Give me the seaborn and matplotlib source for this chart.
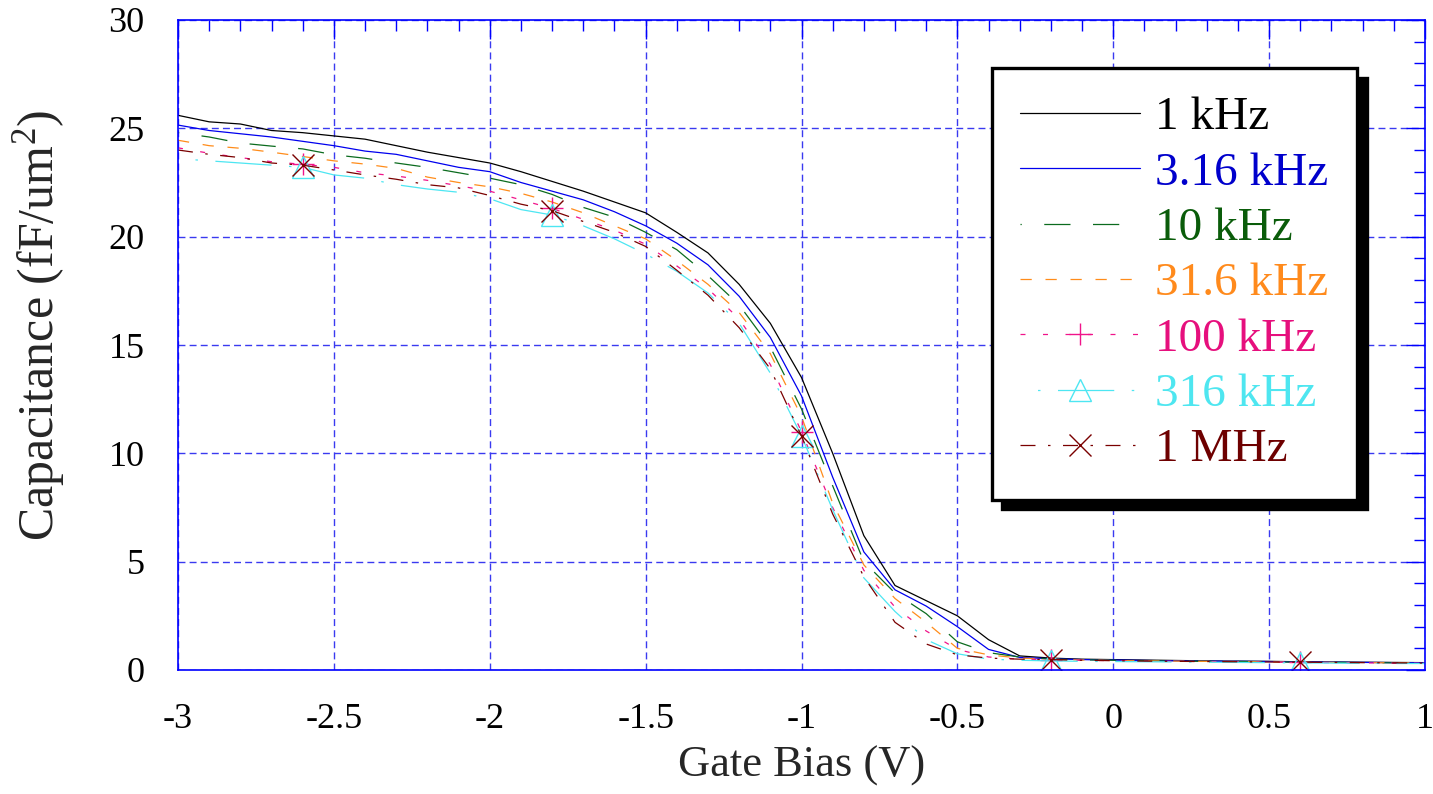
import numpy as np
import pandas as pd
import matplotlib
matplotlib.use("Agg")
import matplotlib.pyplot as plt
from matplotlib.ticker import MultipleLocator, FixedLocator, FixedFormatter
import seaborn as sns

# ---------------- data ----------------
gate_bias = [-3.0, -2.9, -2.8, -2.7, -2.6, -2.5, -2.4, -2.3, -2.2, -2.1,
             -2.0, -1.9, -1.8, -1.7, -1.6, -1.5, -1.4, -1.3, -1.2, -1.1,
             -1.0, -0.9, -0.8, -0.7, -0.6, -0.5, -0.4, -0.3, -0.2, -0.1,
             0.0, 0.1, 0.2, 0.3, 0.4, 0.5, 0.6, 0.7, 0.8, 0.9, 1.0]

cap_1k = [25.6, 25.3, 25.2, 24.9, 24.8, 24.65, 24.5, 24.2, 23.9, 23.65,
          23.4, 23.0, 22.55, 22.1, 21.6, 21.1, 20.2, 19.25, 17.8, 16.0,
          13.5, 10.0, 6.2, 3.9, 3.2, 2.5, 1.4, 0.65, 0.55, 0.50,
          0.48, 0.46, 0.44, 0.42, 0.41, 0.40, 0.38, 0.37, 0.36, 0.35, 0.34]
cap_3k16 = [25.15, 24.9, 24.75, 24.6, 24.4, 24.2, 23.95, 23.8, 23.5, 23.2,
            23.0, 22.5, 22.1, 21.7, 21.15, 20.5, 19.7, 18.7, 17.25, 15.35,
            12.65, 8.9, 5.45, 3.7, 2.95, 2.0, 0.95, 0.58, 0.52, 0.48,
            0.46, 0.44, 0.42, 0.41, 0.40, 0.39, 0.37, 0.36, 0.35, 0.34, 0.33]
cap_10k = [24.8, 24.6, 24.32, 24.18, 24.05, 23.78, 23.62, 23.4, 23.2, 22.95,
           22.7, 22.4, 21.95, 21.35, 20.9, 20.2, 19.4, 18.2, 16.85, 14.9,
           12.05, 8.5, 5.0, 3.55, 2.6, 1.3, 0.8, 0.6, 0.5, 0.47,
           0.45, 0.43, 0.41, 0.40, 0.39, 0.38, 0.36, 0.35, 0.34, 0.33, 0.32]
cap_31k6 = [24.45, 24.2, 24.08, 23.9, 23.7, 23.5, 23.35, 23.15, 22.75, 22.5,
            22.3, 22.0, 21.6, 21.1, 20.5, 19.9, 18.9, 17.8, 16.5, 14.6,
            11.7, 7.7, 4.85, 3.3, 2.2, 1.0, 0.7, 0.55, 0.5, 0.46,
            0.44, 0.42, 0.41, 0.40, 0.39, 0.37, 0.36, 0.35, 0.34, 0.33, 0.32]
cap_100k = [24.1, 23.85, 23.65, 23.46, 23.34, 23.2, 22.95, 22.8, 22.6, 22.35,
            22.1, 21.7, 21.3, 20.8, 20.3, 19.65, 18.65, 17.6, 16.2, 14.1,
            11.0, 7.5, 4.6, 2.9, 1.8, 0.95, 0.6, 0.5, 0.48, 0.45,
            0.43, 0.41, 0.40, 0.39, 0.38, 0.36, 0.35, 0.34, 0.33, 0.32, 0.31]
cap_316k = [23.6, 23.5, 23.4, 23.3, 23.2, 22.85, 22.7, 22.4, 22.2, 22.05,
            21.75, 21.25, 21.0, 20.5, 19.9, 19.2, 18.4, 17.4, 16.0, 13.7,
            10.8, 7.4, 4.25, 2.7, 1.4, 0.75, 0.5, 0.45, 0.42, 0.40,
            0.39, 0.38, 0.37, 0.36, 0.35, 0.34, 0.33, 0.32, 0.31, 0.30, 0.30]
cap_1M = [24.0, 23.8, 23.65, 23.4, 23.3, 23.08, 22.85, 22.65, 22.4, 22.25,
          21.9, 21.5, 21.2, 20.7, 20.2, 19.55, 18.45, 17.3, 15.8, 13.9,
          10.8, 7.2, 4.3, 2.2, 1.2, 0.7, 0.55, 0.5, 0.48, 0.45,
          0.43, 0.41, 0.40, 0.39, 0.38, 0.37, 0.36, 0.35, 0.34, 0.33, 0.32]

series_labels = ["1 kHz", "3.16 kHz", "10 kHz", "31.6 kHz", "100 kHz", "316 kHz", "1 MHz"]
series_values = [cap_1k, cap_3k16, cap_10k, cap_31k6, cap_100k, cap_316k, cap_1M]

x_ticks = [-3, -2.5, -2, -1.5, -1, -0.5, 0, 0.5, 1]
x_tick_labels = ["-3", "-2.5", "-2", "-1.5", "-1", "-0.5", "0", "0.5", "1"]
y_ticks = [0, 5, 10, 15, 20, 25, 30]
y_tick_labels = ["0", "5", "10", "15", "20", "25", "30"]

# ---------------- styles ----------------
line_colors = ["#000000", "#0000ee", "#0b6b1e", "#ff8c1a", "#f0148a", "#4de6f2", "#7a0000"]
text_colors = ["#000000", "#0000cc", "#0a5c0a", "#ff8a1c", "#e60f7d", "#4ee6f0", "#6e0000"]
line_styles = ["-", "-", (20, (21, 18)), (0, (9, 11)), (0, (4, 14)),
               (45, (45, 14, 2, 14)), (0, (12, 10, 2, 10))]
markers = [None, None, None, None, "+", "^", "x"]

sns.set_style("white")
plt.rcParams["font.family"] = ["Liberation Serif", "DejaVu Serif"]
plt.rcParams["mathtext.fontset"] = "custom"
plt.rcParams["mathtext.rm"] = "Liberation Serif"
plt.rcParams["mathtext.it"] = "Liberation Serif:italic"
plt.rcParams["axes.unicode_minus"] = False

fig = plt.figure(figsize=(14.33, 7.94), dpi=100)
ax = fig.add_axes([178 / 1433, 1 - 670 / 794, (1425 - 178) / 1433, (670 - 20) / 794])

for lab, vals, col, ls, mk in zip(series_labels, series_values, line_colors, line_styles, markers):
    df = pd.DataFrame({"bias": gate_bias, "cap": vals})
    kw = dict(color=col, linewidth=0.9, linestyle=ls, label=lab)
    if mk is not None:
        kw.update(marker=mk, markevery=(4, 8), markersize=16, markerfacecolor="none",
                  markeredgecolor=col, markeredgewidth=1.0)
    sns.lineplot(data=df, x="bias", y="cap", ax=ax, **kw)

ax.set_xlim(-3, 1)
ax.set_ylim(0, 30)
ax.xaxis.set_major_locator(FixedLocator(x_ticks))
ax.xaxis.set_major_formatter(FixedFormatter(x_tick_labels))
ax.yaxis.set_major_locator(FixedLocator(y_ticks))
ax.yaxis.set_major_formatter(FixedFormatter(y_tick_labels))
ax.xaxis.set_minor_locator(MultipleLocator(0.1))
ax.yaxis.set_minor_locator(MultipleLocator(1))

ax.tick_params(which="both", direction="in", top=True, right=True, color="#0000ff", width=1.0,
               labelcolor="black", labelsize=26)
ax.tick_params(which="major", length=14)
ax.tick_params(which="minor", length=8)
ax.tick_params(axis="x", which="major", pad=24)
ax.tick_params(axis="y", which="major", pad=24)

ax.grid(True, which="major", color="#3a3af0", linestyle=(0, (5, 3)), linewidth=1.0)
for sp in ax.spines.values():
    sp.set_color("#0000ff")
    sp.set_linewidth(1.2)

ax.set_xlabel("Gate Bias (V)", fontsize=32)
ax.set_ylabel(r"Capacitance (fF/um$^{2}$)", fontsize=36)
ax.xaxis.set_label_coords(0.5, -0.1165)
ax.yaxis.set_label_coords(-0.089, 0.53)

leg = ax.legend(loc="upper right", bbox_to_anchor=(1357 / 1433, 1 - 68 / 794),
                bbox_transform=fig.transFigure, fontsize=34, frameon=True, fancybox=False,
                edgecolor="black", facecolor="white", framealpha=1, borderpad=0.6,
                labelspacing=0.26, handlelength=2.54, handletextpad=0.32, borderaxespad=0,
                numpoints=1,
                shadow={"ox": 7, "oy": -7, "facecolor": "black", "edgecolor": "black", "alpha": 1})
leg.get_frame().set_linewidth(2.4)
for t, c in zip(leg.get_texts(), text_colors):
    t.set_color(c)

fig.savefig("out.png", dpi=100)
